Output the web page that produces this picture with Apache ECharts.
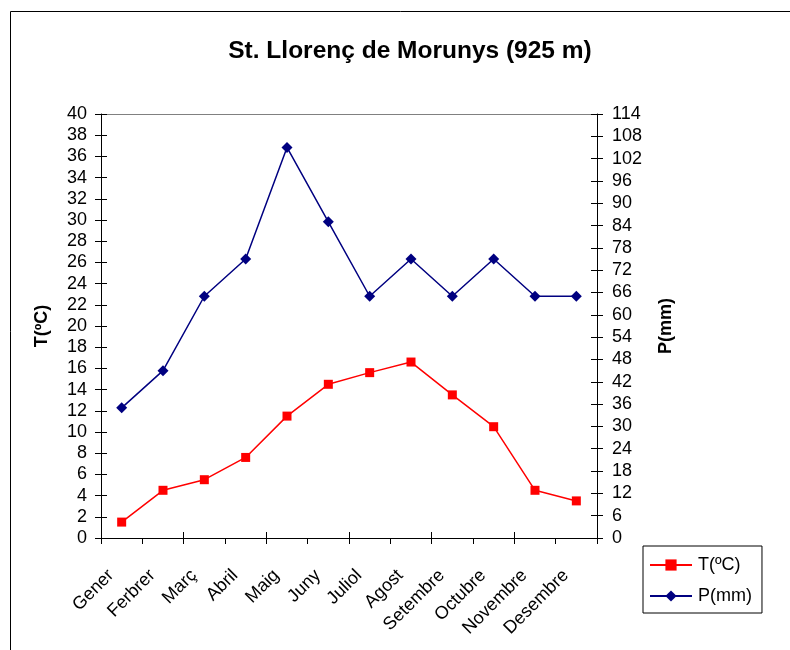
<!DOCTYPE html>
<html>
<head>
<meta charset="utf-8">
<script src="https://cdn.jsdelivr.net/npm/echarts@6/dist/echarts.min.js"></script>
<style>
  html, body { margin: 0; padding: 0; background: #fff; }
  #chart { width: 790px; height: 650px; }
</style>
</head>
<body>
<div id="chart"></div>
<script>
// dades climàtiques
var months = ["Gener", "Ferbrer", "Març", "Abril", "Maig", "Juny", "Juliol", "Agost", "Setembre", "Octubre", "Novembre", "Desembre"];
var temp = [1.5, 4.5, 5.5, 7.6, 11.5, 14.5, 15.6, 16.6, 13.5, 10.5, 4.5, 3.5];
var prec = [35, 45, 65, 75, 105, 85, 65, 75, 65, 75, 65, 65];
var tempTicks = { min: 0, max: 40, interval: 2 };
var precTicks = { min: 0, max: 114, interval: 6 };

var chart = echarts.init(document.getElementById("chart"));
var font = "Liberation Sans, Arial, sans-serif";
var gridBox = { left: 101, top: 114, right: 193, bottom: 112 };

// eixos sense etiquetes, només per fer les marques creuades
function innerY (ticks, pos) {
  return {
    type: "value", position: pos, min: ticks.min, max: ticks.max, interval: ticks.interval,
    axisLine: { show: false },
    axisTick: { show: true, inside: true, length: 6, lineStyle: { color: "#000" } },
    axisLabel: { show: false },
    splitLine: { show: false },
  };
}

chart.setOption({
  animation: false,
  textStyle: { fontFamily: font },
  title: {
    text: "St. Llorenç de Morunys (925 m)",
    left: 405,
    top: 34,
    textAlign: "center",
    textStyle: { fontSize: 24.5, fontWeight: "bold", color: "#000", fontFamily: font },
  },
  grid: gridBox,
  legend: {
    orient: "vertical",
    left: 643,
    top: 546,
    width: 117,
    padding: [10, 10, 8, 6],
    itemGap: 13,
    itemWidth: 42,
    itemHeight: 14,
    borderColor: "#000",
    borderWidth: 1,
    textStyle: { fontSize: 18, color: "#000", fontFamily: font, padding: [0, 0, 0, 1] },
    data: ["T(ºC)", "P(mm)"],
  },
  xAxis: [
    {
      type: "category",
      data: months,
      boundaryGap: true,
      axisLine: { show: true, lineStyle: { color: "#000" } },
      axisTick: { show: true, length: 6, lineStyle: { color: "#000" } },
      axisLabel: {
        rotate: 45, interval: 0, fontSize: 18, color: "#000", margin: 24,
        padding: [0, 15, 0, 0],
      },
      splitLine: { show: false },
    },
    {
      type: "category",
      data: months,
      position: "bottom",
      boundaryGap: true,
      axisLine: { show: false },
      axisTick: { show: true, inside: true, length: 6, lineStyle: { color: "#000" } },
      axisLabel: { show: false },
    },
  ],
  yAxis: [
    {
      type: "value",
      name: "T(ºC)",
      nameLocation: "middle",
      nameRotate: 90,
      nameGap: 50,
      nameTextStyle: { fontSize: 18, fontWeight: "bold", color: "#000" },
      position: "left",
      min: tempTicks.min, max: tempTicks.max, interval: tempTicks.interval,
      axisLine: { show: true, lineStyle: { color: "#000" } },
      axisTick: { show: true, length: 6, lineStyle: { color: "#000" } },
      axisLabel: { fontSize: 18, color: "#000", margin: 14 },
      splitLine: { show: false },
    },
    {
      type: "value",
      name: "P(mm)",
      nameLocation: "middle",
      nameRotate: 90,
      nameGap: 60,
      nameTextStyle: { fontSize: 18, fontWeight: "bold", color: "#000" },
      position: "right",
      min: precTicks.min, max: precTicks.max, interval: precTicks.interval,
      axisLine: { show: true, lineStyle: { color: "#000" } },
      axisTick: { show: true, length: 6, lineStyle: { color: "#000" } },
      axisLabel: { fontSize: 18, color: "#000", margin: 15 },
      splitLine: { show: false },
    },
    innerY(tempTicks, "left"),
    innerY(precTicks, "right"),
  ],
  series: [
    {
      name: "T(ºC)",
      type: "line",
      data: temp,
      yAxisIndex: 0,
      symbol: "rect",
      symbolSize: 9,
      color: "#FF0000",
      lineStyle: { width: 1.5, color: "#FF0000" },
      itemStyle: { color: "#FF0000" },
    },
    {
      name: "P(mm)",
      type: "line",
      data: prec,
      yAxisIndex: 1,
      symbol: "diamond",
      symbolSize: 11,
      color: "#000080",
      lineStyle: { width: 1.5, color: "#000080" },
      itemStyle: { color: "#000080" },
    },
  ],
  graphic: [
    {
      type: "rect",
      shape: { x: 10.5, y: 11.5, width: 800, height: 700 },
      style: { fill: null, stroke: "#000", lineWidth: 1 },
      silent: true,
    },
    {
      type: "line",
      shape: { x1: gridBox.left, y1: gridBox.top + 0.5, x2: 790 - gridBox.right, y2: gridBox.top + 0.5 },
      style: { stroke: "#808080", lineWidth: 1 },
      silent: true,
    },
  ],
});
</script>
</body>
</html>
